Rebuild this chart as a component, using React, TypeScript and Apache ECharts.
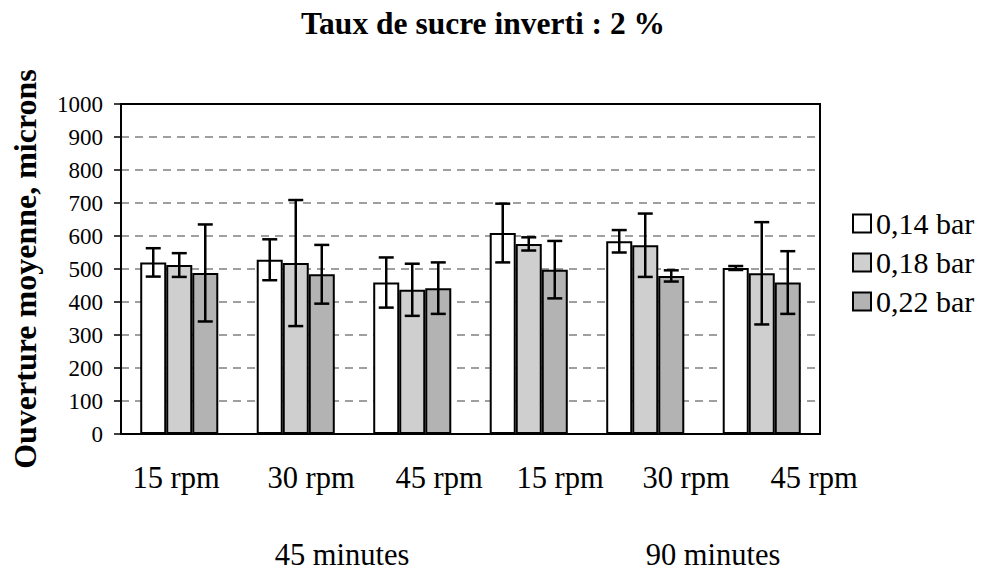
import React, { useEffect, useRef } from "react";
import * as echarts from "echarts";

const categories = ["c0", "c1", "c2", "c3", "c4", "c5"];
const rpmLabels = ["15 rpm", "30 rpm", "45 rpm", "15 rpm", "30 rpm", "45 rpm"];
const durationLabels = ["45 minutes", "90 minutes"];
const seriesNames = ["0,14 bar", "0,18 bar", "0,22 bar"];
const mean014 = [520, 528, 459, 609, 584, 503];
const err014 = [43, 62, 76, 89, 34, 6];
const mean018 = [512, 518, 437, 576, 572, 487];
const err018 = [36, 191, 79, 20, 96, 155];
const mean022 = [488, 484, 442, 498, 479, 459];
const err022 = [147, 89, 78, 87, 17, 95];
const yTicks = { min: 0, max: 1000, interval: 100 };

const FONT = "Liberation Serif";
const rpmLabelX = [176, 311, 439, 560, 686, 814];
const durationLabelX = [342, 713];
const GAP_RATIO = 0.33;

export default function App() {
  const ref = useRef<HTMLDivElement>(null);
  useEffect(() => {
    document.body.style.margin = "0";
    if (!ref.current) return;
    const chart = echarts.init(ref.current, undefined, { renderer: "svg" });
    const means = [mean014, mean018, mean022];
    const errs = [err014, err018, err022];
    const fills = ["#ffffff", "#cfcfcf", "#b3b3b3"];
    const errData: number[][] = [];
    means.forEach((m, s) => {
      m.forEach((v, i) => errData.push([i, s, v, errs[s][i]]));
    });
    const barSeries = seriesNames.map((name, s) => ({
      name,
      type: "bar",
      data: means[s],
      barGap: "0%",
      barCategoryGap: GAP_RATIO * 100 + "%",
      itemStyle: { color: fills[s], borderColor: "#000", borderWidth: 2 },
      emphasis: { disabled: true },
    }));
    const graphics: any[] = [];
    rpmLabels.forEach((t, i) =>
      graphics.push({
        type: "text",
        x: rpmLabelX[i],
        y: 478,
        style: { text: t, fontFamily: FONT, fontSize: 30.5, fill: "#000", align: "center", verticalAlign: "middle" },
      })
    );
    durationLabels.forEach((t, i) =>
      graphics.push({
        type: "text",
        x: durationLabelX[i],
        y: 555,
        style: { text: t, fontFamily: FONT, fontSize: 30.5, fill: "#000", align: "center", verticalAlign: "middle" },
      })
    );
    chart.setOption({
      animation: false,
      textStyle: { fontFamily: FONT, color: "#000" },
      title: {
        text: "Taux de sucre inverti : 2 %",
        left: 478,
        top: 2,
        textAlign: "center",
        textStyle: { fontFamily: FONT, fontSize: 31.5, fontWeight: "bold", color: "#000" },
      },
      grid: {
        left: 121,
        top: 104,
        width: 699,
        height: 330,
        show: true,
        borderColor: "#000",
        borderWidth: 2,
        backgroundColor: "transparent",
        outerBoundsMode: "none",
        containLabel: false,
      },
      legend: {
        data: seriesNames,
        orient: "vertical",
        left: 852,
        top: 208,
        icon: "rect",
        itemWidth: 18,
        itemHeight: 18,
        itemGap: 8,
        padding: 0,
        itemStyle: { borderColor: "#000", borderWidth: 2 },
        textStyle: { fontFamily: FONT, fontSize: 30, color: "#000", lineHeight: 31 },
      },
      xAxis: {
        type: "category",
        data: categories,
        axisLine: { lineStyle: { color: "#000", width: 2 } },
        axisTick: { show: false },
        axisLabel: { show: false },
      },
      yAxis: {
        type: "value",
        min: yTicks.min,
        max: yTicks.max,
        interval: yTicks.interval,
        name: "Ouverture moyenne, microns",
        nameLocation: "middle",
        nameGap: 80,
        nameTextStyle: { fontFamily: FONT, fontSize: 32, fontWeight: "bold", color: "#000" },
        axisLine: { show: true, lineStyle: { color: "#000", width: 2 } },
        axisTick: { show: true, length: 7, lineStyle: { color: "#000", width: 1.5 } },
        axisLabel: {
          fontFamily: FONT,
          fontSize: 23,
          color: "#000",
          margin: 18,
          formatter: (v: number) => String(v),
        },
        splitLine: {
          show: true,
          showMaxLine: false,
          showMinLine: false,
          lineStyle: { color: "#808080", type: [8, 6], width: 1.5 },
        },
      },
      series: [
        ...barSeries,
        {
          type: "custom",
          name: "err",
          data: errData,
          z: 10,
          encode: { x: 0, y: 2 },
          renderItem: (params: any, api: any) => {
            const cat = api.value(0);
            const s = api.value(1);
            const v = api.value(2);
            const e = api.value(3);
            const c = api.coord([cat, v]);
            const band = api.size([1, 0])[0];
            const w = (band * (1 - GAP_RATIO)) / 3;
            const x = c[0] - 1.5 * w + (s + 0.5) * w;
            const top = api.coord([cat, v + e])[1];
            const bot = api.coord([cat, v - e])[1];
            const half = 7.5;
            const style = { stroke: "#000", lineWidth: 2.5 };
            return {
              type: "group",
              children: [
                { type: "line", shape: { x1: x, y1: top, x2: x, y2: bot }, style },
                { type: "line", shape: { x1: x - half, y1: top, x2: x + half, y2: top }, style },
                { type: "line", shape: { x1: x - half, y1: bot, x2: x + half, y2: bot }, style },
              ],
            };
          },
        },
      ],
      graphic: graphics,
    });
    return () => chart.dispose();
  }, []);
  return <div ref={ref} style={{ width: 984, height: 571 }} />;
}
